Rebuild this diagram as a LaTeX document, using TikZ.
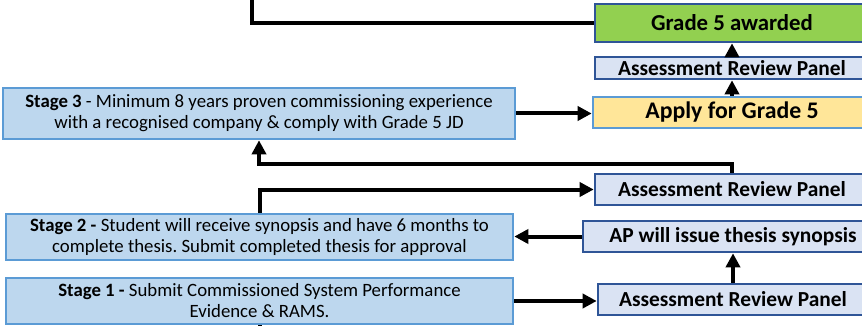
\documentclass[tikz,border=0pt]{standalone}
\usepackage{fontspec}
\setmainfont{Carlito}
\usetikzlibrary{arrows.meta}
\frenchspacing

\definecolor{stagefill}{HTML}{BDD7EE}
\definecolor{stagedraw}{HTML}{5B9BD5}
\definecolor{panelfill}{HTML}{DAE3F3}
\definecolor{paneldraw}{HTML}{2F5597}
\definecolor{awardfill}{HTML}{92D050}
\definecolor{applyfill}{HTML}{FFE699}

\tikzstyle{stage} = [rectangle, draw=stagedraw, fill=stagefill, line width=1.3pt, align=center, inner sep=0pt, font=\fontsize{9.4}{10.5}\selectfont]
\tikzstyle{panel} = [rectangle, draw=paneldraw, fill=panelfill, line width=1.3pt, inner sep=0pt, minimum width=137pt, font=\fontsize{10.7}{12}\selectfont\bfseries]
\tikzstyle{award} = [panel, fill=awardfill, font=\fontsize{11.4}{13}\selectfont\bfseries]
\tikzstyle{apply} = [panel, draw=stagedraw, fill=applyfill, font=\fontsize{11.9}{13}\selectfont\bfseries]
\tikzstyle{link} = [line width=2pt]
\tikzstyle{arrow} = [link, -{Triangle[length=7pt,width=7pt]}]

\begin{document}
\begin{tikzpicture}[x=0.5pt,y=-0.5pt]
      \useasboundingbox (0,0) rectangle (862,326);
      \clip (0,0) rectangle (862,326);

      \node[award, minimum height=19pt] (grade) at (732,23) {Grade 5 awarded};
      \node[panel, minimum height=11pt] (panela) at (732,68) {Assessment Review Panel};
      \node[apply, minimum width=139pt, minimum height=15.5pt] (applyg) at (732,112.5) {Apply for Grade 5};
      \node[panel, minimum height=15.5pt] (panelb) at (732,189.5) {Assessment Review Panel};
      \node[panel, minimum width=150pt, minimum height=15.5pt] (synopsis) at (733,236.5) {AP will issue thesis synopsis};
      \node[panel, minimum width=135pt, minimum height=15.5pt] (panelc) at (733,299.5) {Assessment Review Panel};

      \node[stage, minimum width=256pt, minimum height=25.5pt] (stage3) at (259,113.5) {\textbf{Stage 3} - Minimum 8 years proven commissioning experience\\ with a recognised company \& comply with Grade 5 JD};
      \node[stage, minimum width=253.5pt, minimum height=23pt] (stage2) at (259.5,237) {\textbf{Stage 2 -} Student will receive synopsis and have 6 months to\\ complete thesis. Submit completed thesis for approval};
      \node[stage, minimum width=253.5pt, minimum height=23pt] (stage1) at (259.5,301) {\textbf{Stage 1 -} Submit Commissioned System Performance\\ Evidence \& RAMS.};

      \coordinate (topin) at (252,-10);
      \coordinate (botout) at (259.5,340);

      \draw[link] (topin) |- (grade.west);
      \draw[arrow] (panela) -- (grade);
      \draw[arrow] (applyg) -- (panela);
      \draw[arrow] (stage3.east) -- (stage3.east -| applyg.west);
      \draw[arrow] (panelb.north) -- ++(0,-9) -| (stage3.south);
      \draw[arrow] (stage2.north) |- (panelb.west);
      \draw[arrow] (synopsis.west) -- (synopsis.west -| stage2.east);
      \draw[arrow] (stage1.east) -- (stage1.east -| panelc.west);
      \draw[arrow] (panelc.north) -- (synopsis.south);
      \draw[link] (stage1.south) -- (botout);
    \end{tikzpicture}
\end{document}
